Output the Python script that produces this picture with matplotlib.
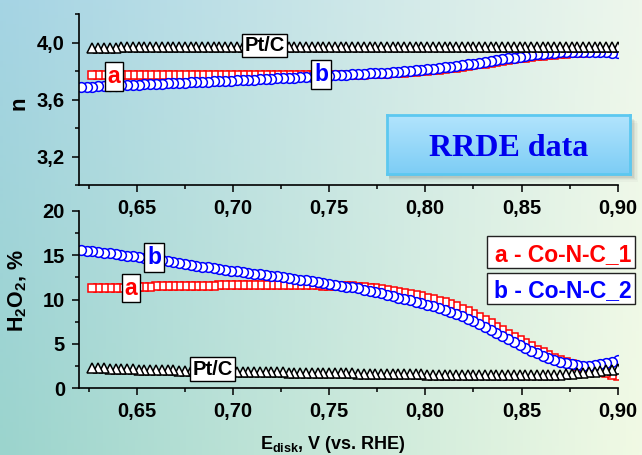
import numpy as np
import matplotlib
matplotlib.use("Agg")
import matplotlib.pyplot as plt
from matplotlib.patches import Rectangle
from matplotlib.ticker import MultipleLocator, FuncFormatter

plt.rcParams['font.family'] = ['Liberation Sans', 'DejaVu Sans']
plt.rcParams['font.weight'] = 'bold'
plt.rcParams['mathtext.fontset'] = 'custom'
plt.rcParams['mathtext.rm'] = 'Liberation Sans:bold'
plt.rcParams['mathtext.it'] = 'Liberation Sans:bold'
plt.rcParams['mathtext.bf'] = 'Liberation Sans:bold'
plt.rcParams['mathtext.default'] = 'rm'

# ---------------- data ----------------
E_STEP = 0.003
E_START_A = 0.627      # Co-N-C_1 and Pt/C sweep start
E_START_B = 0.621      # Co-N-C_2 sweep start

# H2O2 yield, %
h2o2_a = [11.25, 11.27, 11.29, 11.31, 11.33, 11.35, 11.37, 11.39, 11.41, 11.43,
          11.45, 11.47, 11.49, 11.50, 11.52, 11.53, 11.54, 11.55, 11.56, 11.57,
          11.58, 11.58, 11.59, 11.59, 11.60, 11.60, 11.61, 11.61, 11.62, 11.62,
          11.62, 11.62, 11.62, 11.62, 11.62, 11.61, 11.61, 11.60, 11.60, 11.59,
          11.58, 11.57, 11.55, 11.53, 11.50, 11.47, 11.43, 11.39, 11.33, 11.26,
          11.18, 11.09, 10.99, 10.88, 10.77, 10.65, 10.52, 10.38, 10.22, 10.05,
          9.87, 9.67, 9.46, 9.22, 8.96, 8.68, 8.38, 8.06, 7.72, 7.34,
          6.94, 6.54, 6.15, 5.77, 5.40, 5.04, 4.69, 4.35, 4.02, 3.71,
          3.42, 3.15, 2.90, 2.67, 2.46, 2.27, 2.09, 1.93, 1.78, 1.64,
          1.51, 1.40]
h2o2_b = [15.60, 15.53, 15.45, 15.37, 15.29, 15.21, 15.13, 15.05, 14.97, 14.88,
          14.79, 14.70, 14.61, 14.51, 14.41, 14.31, 14.21, 14.11, 14.01, 13.91,
          13.81, 13.72, 13.63, 13.54, 13.45, 13.36, 13.27, 13.18, 13.09, 13.01,
          12.93, 12.85, 12.77, 12.69, 12.60, 12.51, 12.42, 12.33, 12.24, 12.15,
          12.06, 11.96, 11.86, 11.76, 11.66, 11.56, 11.46, 11.36, 11.25, 11.12,
          10.98, 10.83, 10.68, 10.53, 10.38, 10.22, 10.06, 9.90, 9.74, 9.58,
          9.41, 9.24, 9.06, 8.86, 8.63, 8.38, 8.10, 7.82, 7.52, 7.20,
          6.87, 6.53, 6.19, 5.85, 5.51, 5.18, 4.85, 4.53, 4.22, 3.92,
          3.64, 3.38, 3.14, 2.94, 2.78, 2.66, 2.58, 2.54, 2.54, 2.58,
          2.66, 2.78, 2.94, 3.12]
h2o2_pt = [2.25, 2.23, 2.21, 2.19, 2.17, 2.15, 2.13, 2.11, 2.09, 2.07,
           2.05, 2.03, 2.01, 2.00, 1.98, 1.96, 1.95, 1.93, 1.92, 1.90,
           1.89, 1.88, 1.87, 1.86, 1.85, 1.84, 1.83, 1.82, 1.81, 1.80,
           1.79, 1.78, 1.77, 1.76, 1.75, 1.74, 1.73, 1.72, 1.71, 1.70,
           1.69, 1.68, 1.67, 1.66, 1.65, 1.64, 1.63, 1.62, 1.61, 1.60,
           1.59, 1.58, 1.57, 1.56, 1.55, 1.54, 1.54, 1.53, 1.52, 1.52,
           1.51, 1.51, 1.50, 1.50, 1.49, 1.49, 1.49, 1.48, 1.48, 1.48,
           1.48, 1.47, 1.47, 1.47, 1.47, 1.47, 1.47, 1.48, 1.48, 1.49,
           1.50, 1.52, 1.55, 1.59, 1.64, 1.70, 1.76, 1.83, 1.90, 1.98,
           2.07, 2.16]

# electron transfer number n
n_a = [3.777, 3.777, 3.777, 3.777, 3.777, 3.777, 3.777, 3.777, 3.777, 3.777,
       3.777, 3.777, 3.777, 3.777, 3.777, 3.777, 3.777, 3.777, 3.777, 3.777,
       3.777, 3.777, 3.777, 3.777, 3.777, 3.777, 3.777, 3.777, 3.777, 3.777,
       3.777, 3.777, 3.777, 3.777, 3.777, 3.777, 3.777, 3.777, 3.776, 3.776,
       3.776, 3.776, 3.776, 3.776, 3.776, 3.776, 3.777, 3.777, 3.778, 3.779,
       3.781, 3.783, 3.785, 3.787, 3.790, 3.793, 3.796, 3.800, 3.804, 3.808,
       3.812, 3.816, 3.821, 3.826, 3.831, 3.836, 3.842, 3.848, 3.854, 3.860,
       3.866, 3.872, 3.878, 3.884, 3.890, 3.895, 3.900, 3.905, 3.909, 3.913,
       3.917, 3.920, 3.923, 3.926, 3.929, 3.931, 3.933, 3.935, 3.936, 3.937,
       3.938, 3.938]
n_b = [3.690, 3.692, 3.693, 3.695, 3.696, 3.698, 3.700, 3.701, 3.703, 3.705,
       3.707, 3.708, 3.710, 3.712, 3.713, 3.715, 3.717, 3.718, 3.720, 3.722,
       3.724, 3.725, 3.727, 3.729, 3.730, 3.732, 3.734, 3.736, 3.738, 3.740,
       3.742, 3.744, 3.746, 3.748, 3.750, 3.752, 3.754, 3.756, 3.758, 3.760,
       3.763, 3.765, 3.767, 3.770, 3.772, 3.774, 3.776, 3.778, 3.780, 3.782,
       3.785, 3.787, 3.789, 3.791, 3.794, 3.797, 3.800, 3.803, 3.806, 3.810,
       3.814, 3.818, 3.822, 3.827, 3.832, 3.837, 3.842, 3.848, 3.854, 3.860,
       3.866, 3.872, 3.878, 3.884, 3.890, 3.896, 3.902, 3.908, 3.913, 3.918,
       3.922, 3.926, 3.929, 3.932, 3.934, 3.935, 3.936, 3.936, 3.936, 3.935,
       3.934, 3.932, 3.929, 3.926]
n_pt = [3.966, 3.966, 3.967, 3.967, 3.967, 3.968, 3.968, 3.968, 3.969, 3.969,
        3.969, 3.970, 3.970, 3.970, 3.970, 3.971, 3.971, 3.971, 3.971, 3.971,
        3.972, 3.972, 3.972, 3.972, 3.972, 3.972, 3.972, 3.972, 3.972, 3.972,
        3.972, 3.972, 3.972, 3.972, 3.972, 3.972, 3.972, 3.972, 3.972, 3.972,
        3.972, 3.972, 3.972, 3.972, 3.972, 3.972, 3.972, 3.972, 3.972, 3.972,
        3.972, 3.972, 3.972, 3.972, 3.972, 3.972, 3.972, 3.972, 3.972, 3.972,
        3.972, 3.972, 3.972, 3.972, 3.972, 3.972, 3.972, 3.972, 3.972, 3.972,
        3.972, 3.972, 3.972, 3.972, 3.972, 3.972, 3.972, 3.972, 3.972, 3.972,
        3.972, 3.971, 3.971, 3.971, 3.970, 3.970, 3.970, 3.969, 3.969, 3.969,
        3.968, 3.968]

x_ticks = [0.65, 0.70, 0.75, 0.80, 0.85, 0.90]
n_ticks = [3.2, 3.6, 4.0]
h_ticks = [0, 5, 10, 15, 20]

legend_a = "a - Co-N-C_1"
legend_b = "b - Co-N-C_2"


def grid(start, vals):
    return start + E_STEP * np.arange(len(vals))


E_a = grid(E_START_A, h2o2_a)
E_b = grid(E_START_B, h2o2_b)
E_pt = grid(E_START_A, h2o2_pt)

# ---------------- figure ----------------
W, H = 642, 455
fig = plt.figure(figsize=(W / 100, H / 100), dpi=100)


def fx(px):
    return px / W


def fy(py):
    return 1 - py / H


# background gradient
bg = fig.add_axes([0, 0, 1, 1], zorder=-10)
tl = np.array([165, 212, 228]) / 255
bl = np.array([155, 212, 205]) / 255
tr = np.array([238, 247, 236]) / 255
br = np.array([241, 250, 228]) / 255
u = np.linspace(0, 1, 200)[None, :, None]
v = np.linspace(0, 1, 150)[:, None, None]
img = (1 - v) * ((1 - u) * tl + u * tr) + v * ((1 - u) * bl + u * br)
bg.imshow(np.clip(img, 0, 1), extent=[0, 1, 0, 1], aspect='auto', origin='upper')
bg.axis('off')

L, R = 79, 617.7
ax1 = fig.add_axes([fx(L), fy(185.3), fx(R) - fx(L), fy(14.3) - fy(185.3)])
ax2 = fig.add_axes([fx(L), fy(388), fx(R) - fx(L), fy(211) - fy(388)])

comma2 = FuncFormatter(lambda v, p: f"{v:.2f}".replace('.', ','))
comma1 = FuncFormatter(lambda v, p: f"{v:.1f}".replace('.', ','))
intf = FuncFormatter(lambda v, p: f"{v:.0f}")

for ax in (ax1, ax2):
    ax.set_facecolor('none')
    for s in ('top', 'right'):
        ax.spines[s].set_visible(False)
    for s in ('left', 'bottom'):
        ax.spines[s].set_linewidth(1.2)
    ax.set_xlim(0.62, 0.90)
    ax.set_xticks(x_ticks)
    ax.xaxis.set_minor_locator(MultipleLocator(0.025))
    ax.xaxis.set_major_formatter(comma2)
    ax.tick_params(which='major', direction='out', length=5, width=1.1,
                   labelsize=14.5, pad=5)
    ax.tick_params(which='minor', direction='out', length=3, width=1.1)

ms = 7
mew = 1.1
sq = 6.4

# top panel: n
ax1.set_ylim(3.0, 4.2)
ax1.set_yticks(n_ticks)
ax1.yaxis.set_minor_locator(MultipleLocator(0.2))
ax1.yaxis.set_major_formatter(comma1)
ax1.plot(E_a[::-1], np.array(n_a)[::-1], ls='none', marker='s', ms=sq,
         mfc='white', mec='#ff0000', mew=mew)
ax1.plot(E_b[::-1], np.array(n_b)[::-1], ls='none', marker='o', ms=ms,
         mfc='white', mec='#0000ff', mew=mew)
ax1.plot(E_pt[::-1], np.array(n_pt)[::-1], ls='none', marker='^', ms=ms,
         mfc='white', mec='black', mew=mew)

# bottom panel: H2O2
ax2.set_ylim(0, 20)
ax2.set_yticks(h_ticks)
ax2.yaxis.set_minor_locator(MultipleLocator(2.5))
ax2.yaxis.set_major_formatter(intf)
ax2.plot(E_a[::-1], np.array(h2o2_a)[::-1], ls='none', marker='s', ms=sq,
         mfc='white', mec='#ff0000', mew=mew)
ax2.plot(E_b[::-1], np.array(h2o2_b)[::-1], ls='none', marker='o', ms=ms,
         mfc='white', mec='#0000ff', mew=mew)
ax2.plot(E_pt[::-1], np.array(h2o2_pt)[::-1], ls='none', marker='^', ms=ms,
         mfc='white', mec='black', mew=mew)

for ax in (ax1, ax2):
    for lab in ax.get_xticklabels() + ax.get_yticklabels():
        lab.set_fontweight('bold')

# curve labels
box = dict(boxstyle='square,pad=0.12', fc='white', ec='black', lw=1.0)
ax1.text(0.7164, 3.981, 'Pt/C', fontsize=14.5, fontweight='bold', color='black',
         ha='center', va='center', bbox=box, zorder=5)
ax1.text(0.638, 3.763, 'a', fontsize=16.5, fontweight='bold', color='#ff0000',
         ha='center', va='center', bbox=box, zorder=5)
ax1.text(0.7458, 3.778, 'b', fontsize=16.5, fontweight='bold', color='#0000ff',
         ha='center', va='center', bbox=box, zorder=5)
ax2.text(0.6591, 14.73, 'b', fontsize=16.5, fontweight='bold', color='#0000ff',
         ha='center', va='center', bbox=box, zorder=5)
ax2.text(0.6471, 11.29, 'a', fontsize=16.5, fontweight='bold', color='#ff0000',
         ha='center', va='center', bbox=box, zorder=5)
ax2.text(0.6896, 2.14, 'Pt/C', fontsize=14.5, fontweight='bold', color='black',
         ha='center', va='center', bbox=box, zorder=5)

# legend boxes
for (y0, y1, txt, col, base) in [(236, 268, legend_a, '#ff0000', 261.5),
                                 (272.7, 304, legend_b, '#0000ff', 297.5)]:
    fig.patches.append(Rectangle((fx(486.7), fy(y1)), fx(635) - fx(486.7),
                                 fy(y0) - fy(y1), transform=fig.transFigure,
                                 fc='white', ec='#222222', lw=1.0, zorder=5))
    fig.text(fx(563), fy(base), txt, fontsize=16.5, fontweight='bold', color=col,
             ha='center', va='baseline', zorder=6)

# axis labels
fig.text(fx(19), fy(103), 'n', rotation=90, fontsize=16, fontweight='bold',
         ha='center', va='center')
fig.text(fx(17.5), fy(290), r'H$_2$O$_2$, %', rotation=90, fontsize=15.5,
         fontweight='bold', ha='center', va='center')
fig.text(fx(333), fy(449), r'E$_{disk}$, V (vs. RHE)', fontsize=13,
         fontweight='bold', ha='center', va='baseline')

# RRDE data box with shadow
bx0, by0, bx1, by1 = 387, 115, 630, 174
for k, a in enumerate([0.10, 0.08, 0.06, 0.04, 0.03]):
    off = 2 + k * 1.5
    fig.patches.append(Rectangle((fx(bx0 + 2), fy(by1 + off)), fx(bx1 + off) - fx(bx0 + 2),
                                 fy(by0 + off) - fy(by1 + off), transform=fig.transFigure,
                                 fc='#303030', ec='none', alpha=a, zorder=1))
bax = fig.add_axes([fx(bx0), fy(by1), fx(bx1) - fx(bx0), fy(by0) - fy(by1)], zorder=3)
top_c = np.array([178, 228, 253]) / 255
bot_c = np.array([125, 205, 245]) / 255
t = np.linspace(0, 1, 60)[:, None, None]
grad = (1 - t) * top_c + t * bot_c
grad = np.repeat(grad, 4, axis=1)
bax.imshow(grad, extent=[0, 1, 0, 1], aspect='auto', origin='upper')
bax.set_xticks([])
bax.set_yticks([])
for s in bax.spines.values():
    s.set_color('#5cc8f0')
    s.set_linewidth(2)
bax.text(0.5, 0.5, 'RRDE data', transform=bax.transAxes, fontsize=23,
         fontweight='bold', family=['Liberation Serif', 'DejaVu Serif'],
         color='#0000ee', ha='center', va='center_baseline')

fig.savefig('out.png', dpi=100)
